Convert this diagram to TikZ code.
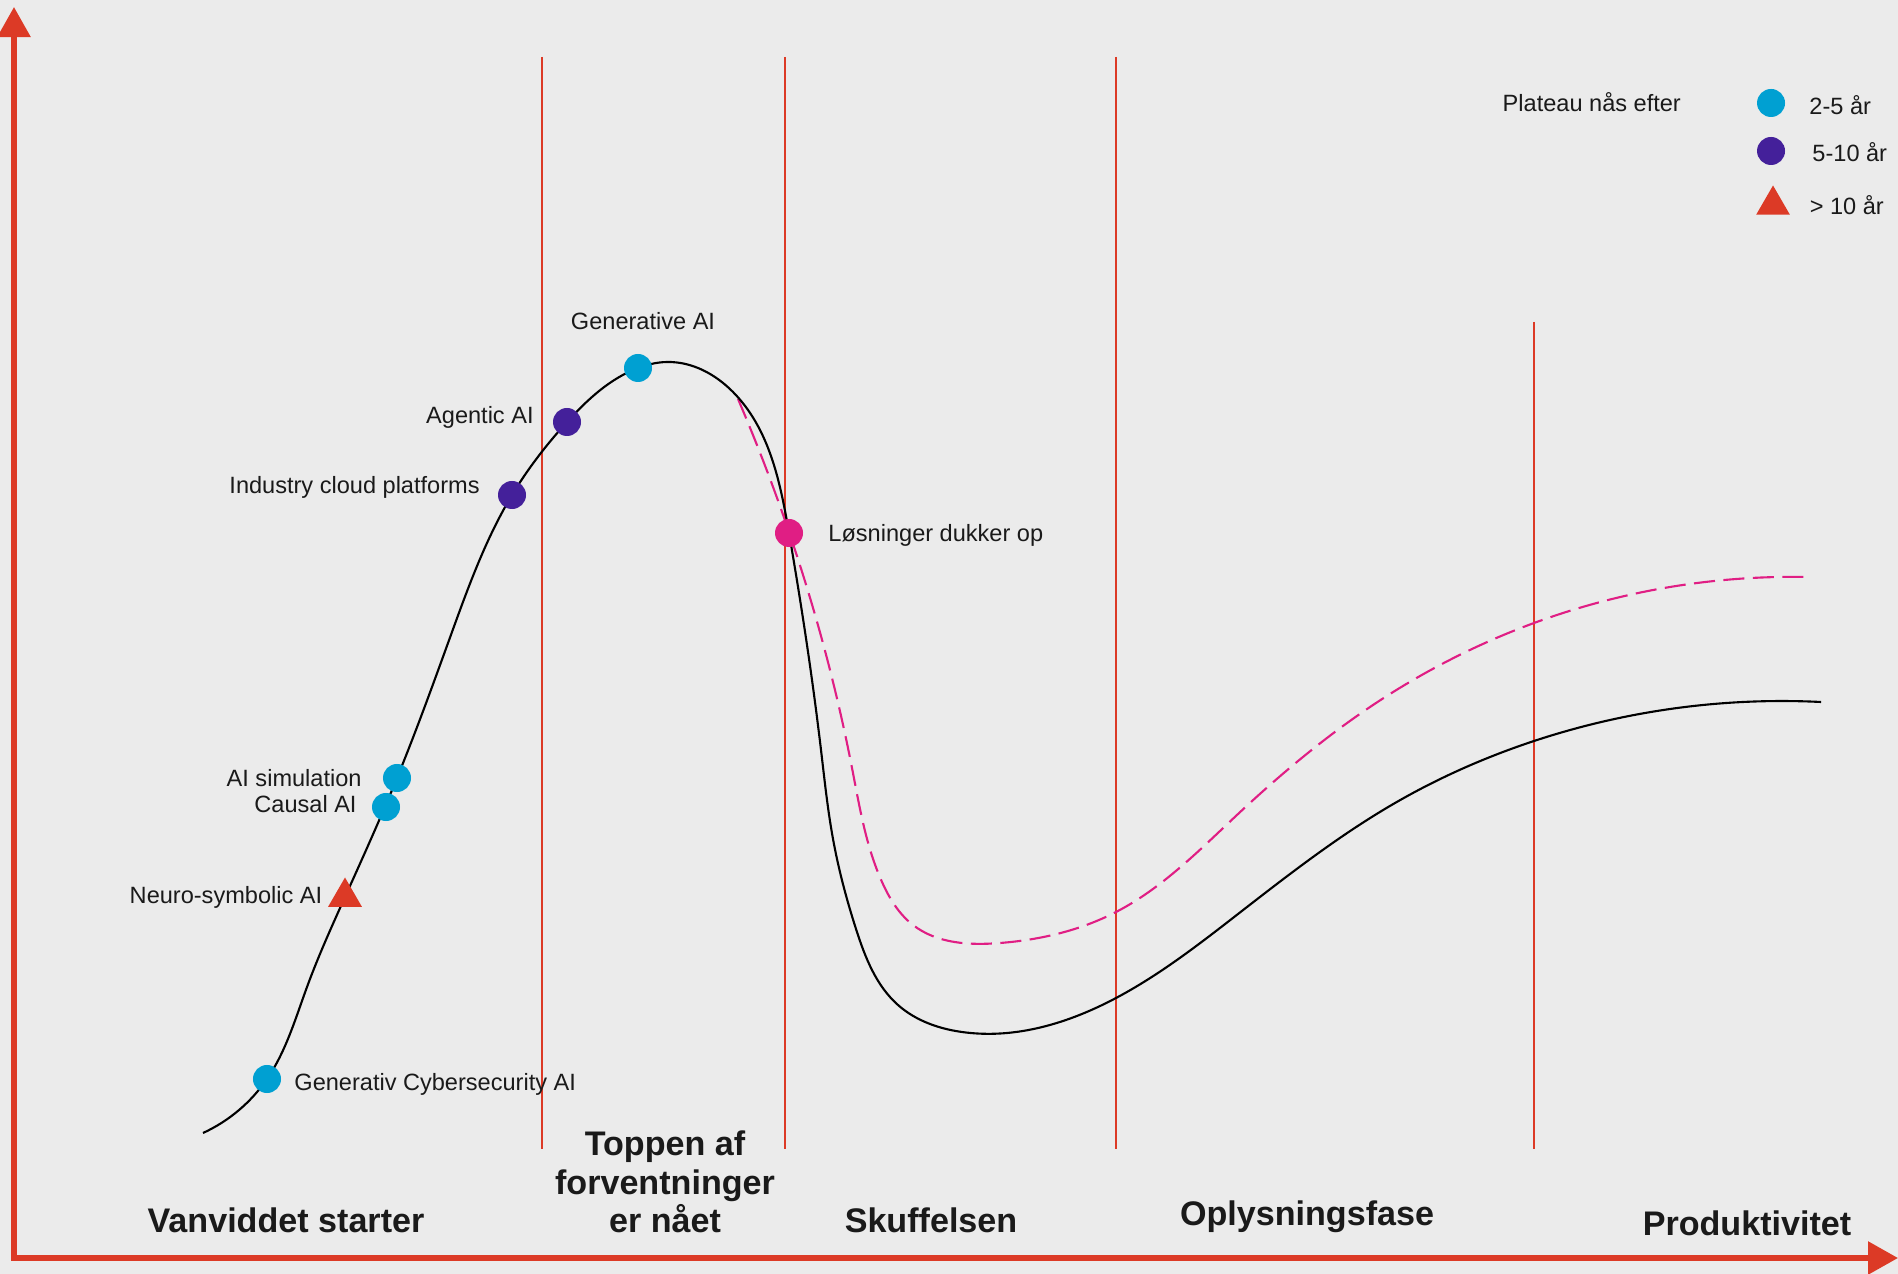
\documentclass[tikz,border=0pt]{standalone}
\usepackage{fontspec}
\setmainfont{Liberation Sans}
\usepackage{xcolor}
\usetikzlibrary{arrows.meta, positioning, shapes.geometric, hobby}
\definecolor{bg}{HTML}{EBEBEB}
\definecolor{axisred}{HTML}{DC3A26}
\definecolor{shortc}{HTML}{00A0D2}
\definecolor{midc}{HTML}{44209A}
\definecolor{pinkc}{HTML}{E01E84}
\definecolor{ink}{HTML}{1A1A1A}
\tikzset{%
	dot/.style={circle, minimum size=2.8mm, inner sep=0mm},
	tri/.style={regular polygon, regular polygon sides=3, minimum size=3.9mm, inner sep=0mm, fill=axisred},
	lbl/.style={inner sep=0mm, text=ink, font=\fontsize{6.7}{8}\selectfont},
	phase/.style={inner sep=0mm, align=center, text=ink,%
		font=\fontsize{9.7}{10.96}\selectfont\bfseries},
	divider/.style={draw=axisred, line width=0.6pt},
	axis/.style={draw=axisred, line width=1.6pt, {Triangle[length=3mm, width=3.2mm]}-{Triangle[length=3mm, width=3.2mm]}},
	hype/.style={line width=0.6pt, draw=black, use Hobby shortcut},
	better/.style={line width=0.6pt, draw=pinkc, dash pattern=on 6pt off 2.4pt, use Hobby shortcut}
}

\begin{document}
\begin{tikzpicture}[x=0.01cm, y=-0.01cm]
	\fill[bg] (0,0) rectangle (1898,1274);
	\useasboundingbox (0,0) rectangle (1898,1274);

	% axes
	\coordinate (ytop) at (14,7);
	\coordinate (o) at (14,1258);
	\coordinate (xend) at (1898,1258);
	\draw[axis] (ytop) -- (o) -- (xend);

	% phase borders
	\foreach \x/\t in {542/57, 785/57, 1116/57, 1534/322}
		\draw[divider] (\x,\t) -- (\x,1149);

	% curves
	\draw[better] (738,399) .. (790,535) .. (852,768) .. (882,882) .. (913,925) .. (1000,943)
		.. (1116,912) .. (1238,814) .. (1376,703) .. (1534,623) .. (1643,592) .. (1807,577);
	\draw[hype] (203,1133) .. (267,1079) .. (307,987) .. (345,897) .. (397,778) .. (452,632)
		.. (512,495) .. (567,422) .. (638,368) .. (667,362) .. (733,392) .. (789,533) .. (821,750)
		.. (833,839) .. (856,929) .. (898,1005) .. (962,1032) .. (1116,998) .. (1238,914)
		.. (1395,803) .. (1534,741) .. (1624,717) .. (1821,702);

	% technologies
	\node[dot, fill=shortc] (gencyber) at (267,1079) {};
	\node[tri] (neuro) at (345,897) {};
	\node[dot, fill=shortc] (causal) at (386,807) {};
	\node[dot, fill=shortc] (aisim) at (397,778) {};
	\node[dot, fill=midc] (cloud) at (512,495) {};
	\node[dot, fill=midc] (agentic) at (567,422) {};
	\node[dot, fill=shortc] (genai) at (638,368) {};
	\node[dot, fill=pinkc] (fix) at (789,533) {};

	\node[lbl, right=0.12cm of gencyber, yshift=-0.05cm] {Generativ Cybersecurity AI};
	\node[lbl, left=0.1cm of neuro] {Neuro-symbolic AI};
	\node[lbl, left=0.14cm of causal, yshift=0.03cm] {Causal AI};
	\node[lbl, left=0.2cm of aisim] {AI simulation};
	\node[lbl, left=0.17cm of cloud, yshift=0.08cm] {Industry cloud platforms};
	\node[lbl, left=0.18cm of agentic, yshift=0.05cm] {Agentic AI};
	\node[lbl, above=0.23cm of genai, xshift=0.05cm] {Generative AI};
	\node[lbl, right=0.24cm of fix, yshift=-0.02cm] {Løsninger dukker op};

	% legend
	\node[lbl, anchor=west] (plateau) at (1502,102) {Plateau nås efter};
	\node[dot, fill=shortc] (k1) at (1771,103) {};
	\node[dot, fill=midc] (k2) at (1771,151) {};
	\node[tri] (k3) at (1773,205) {};
	\node[lbl, right=0.23cm of k1, yshift=-0.02cm] {2-5 år};
	\node[lbl, right=0.26cm of k2, yshift=-0.01cm] {5-10 år};
	\node[lbl, right=0.24cm of k3] {> 10 år};

	% phases
	\node[phase] (p1) at (286,1220) {Vanviddet starter};
	\node[phase] (p2) at (665,1182) {Toppen af\\forventninger\\er nået};
	\node[phase] (p3) at (931,1220) {Skuffelsen};
	\node[phase] (p4) at (1307,1217) {Oplysningsfase};
	\node[phase] (p5) at (1747,1223) {Produktivitet};
\end{tikzpicture}
\end{document}
